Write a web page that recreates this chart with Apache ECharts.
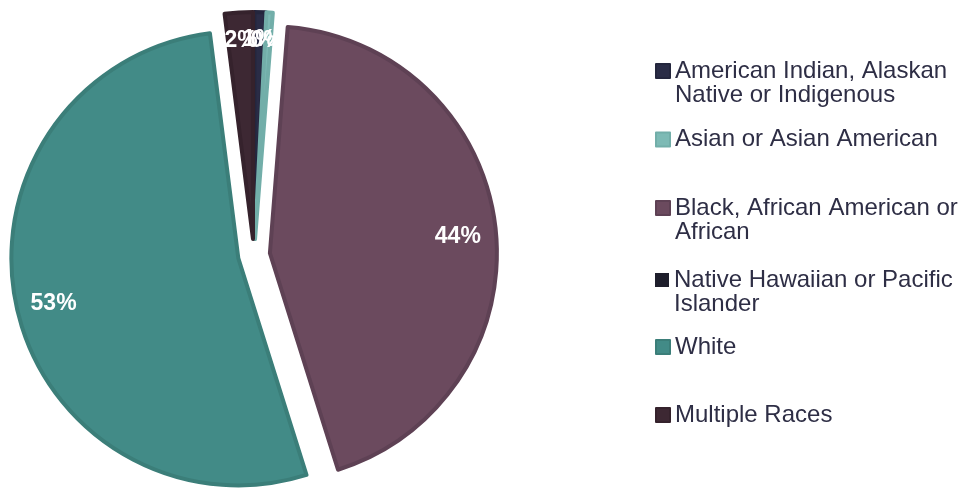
<!DOCTYPE html>
<html>
<head>
<meta charset="utf-8">
<script src="https://cdn.jsdelivr.net/npm/echarts@6/dist/echarts.min.js"></script>
<style>
html,body{margin:0;padding:0;background:#fff;}
#chart{width:963px;height:488px;}
</style>
</head>
<body>
<div id="chart"></div>
<script>
const categories = [
  'American Indian, Alaskan Native or Indigenous',
  'Asian or Asian American',
  'Black, African American or African',
  'Native Hawaiian or Pacific Islander',
  'White',
  'Multiple Races'
];
const values = [0.8, 0.45, 43.9, 0, 52.85, 2.0];
const legendLabels = [
  ['American Indian, Alaskan', 'Native or Indigenous'],
  ['Asian or Asian American'],
  ['Black, African American or', 'African'],
  ['Native Hawaiian or Pacific', 'Islander'],
  ['White'],
  ['Multiple Races']
];
const fillColors = ['#2a2c46', '#7dbab5', '#6b4a5e', '#1e1e2c', '#428b87', '#3d2833'];
const borderColors = ['#24263d', '#72aea9', '#5e4154', '#1a1a26', '#3b7e79', '#35222c'];

const legendFirstLineCenters = [71, 139.5, 208, 280, 347, 415];
const LH = 24;
const legendFont = 24;

const chart = echarts.init(document.getElementById('chart'), null, {renderer: 'canvas'});

const pieCenter = [254, 255];
const R = 227;

const mainData = categories.map((n, i) => ({
  name: n,
  value: values[i],
  selected: true,
  itemStyle: {
    color: fillColors[i],
    borderColor: borderColors[i],
    borderWidth: values[i] > 0 ? 4 : 0
  }
}));
const labelData = categories.map((n, i) => ({
  name: n,
  value: values[i],
  selected: true
}));

const legends = categories.map((n, i) => {
  const lines = legendLabels[i];
  const two = lines.length > 1;
  return {
    data: [n],
    orient: 'vertical',
    left: 655,
    top: legendFirstLineCenters[i] - (two ? 1.5 * LH : 0.5 * LH),
    padding: 0,
    itemWidth: 14,
    itemHeight: 14,
    itemGap: 0,
    icon: 'rect',
    selectedMode: false,
    formatter: () => (two ? '\n' + lines.join('\n') : lines[0]),
    textStyle: {
      fontFamily: 'Liberation Sans, Arial, sans-serif',
      fontSize: legendFont,
      lineHeight: LH,
      color: '#2e2e45'
    }
  };
});

chart.setOption({
  animation: false,
  backgroundColor: '#ffffff',
  legend: legends,
  series: [
    {
      type: 'pie',
      name: 'main',
      center: pieCenter,
      radius: [0, R],
      startAngle: 90,
      clockwise: true,
      selectedMode: 'multiple',
      selectedOffset: 16,
      avoidLabelOverlap: false,
      silent: true,
      label: {show: false},
      labelLine: {show: false},
      emphasis: {disabled: true},
      data: mainData
    },
    {
      type: 'pie',
      name: 'labels',
      center: pieCenter,
      radius: [R * 0.64, R],
      startAngle: 90,
      clockwise: true,
      selectedMode: 'multiple',
      selectedOffset: 16,
      avoidLabelOverlap: false,
      silent: true,
      itemStyle: {color: 'rgba(0,0,0,0)', borderWidth: 0},
      label: {
        show: true,
        position: 'inside',
        color: '#ffffff',
        fontFamily: 'Liberation Sans, Arial, sans-serif',
        fontWeight: 'bold',
        fontSize: 23,
        formatter: p => p.value > 0 ? Math.round(p.percent) + '%' : ''
      },
      labelLayout: p => (values[p.dataIndex] < 5 ? {dy: -10} : {dy: 5}),
      labelLine: {show: false},
      emphasis: {disabled: true},
      data: labelData
    }
  ]
});
</script>
</body>
</html>
